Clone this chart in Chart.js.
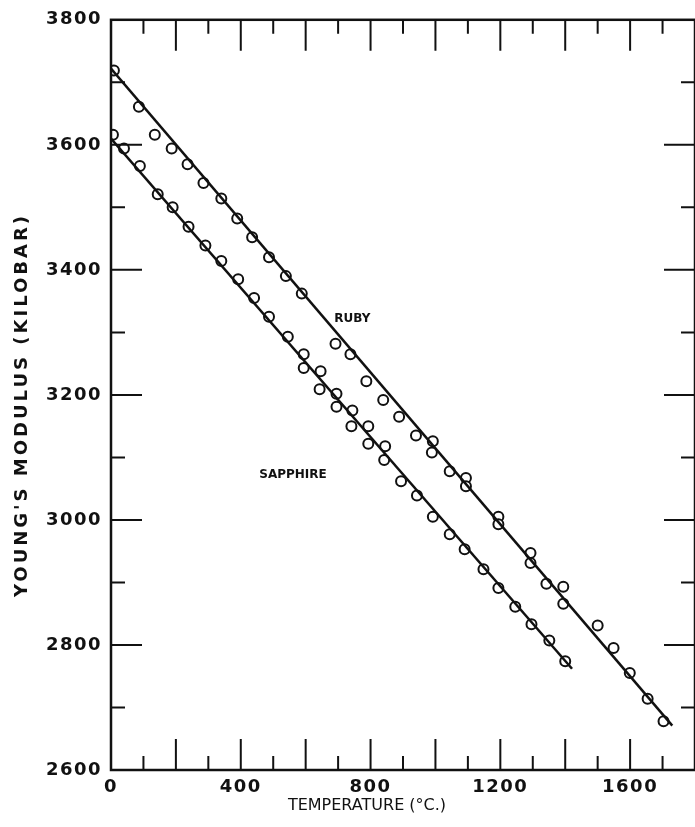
<!DOCTYPE html>
<html>
<head>
<meta charset="utf-8">
<script src="https://cdn.jsdelivr.net/npm/chart.js@4.4.0/dist/chart.umd.min.js"></script>
<style>
  html, body { margin: 0; padding: 0; background: #fff; overflow: hidden; }
</style>
</head>
<body>
<canvas id="chart" width="702" height="827"></canvas>
<script>
// Ruby: measured points
const rubyTemp = [9, 86, 135, 187, 236, 285, 340, 389, 435, 487, 539, 588, 692, 738, 787, 839, 888, 940, 992, 989, 1044, 1094, 1094, 1194, 1194, 1293, 1293, 1342, 1394, 1394, 1500, 1549, 1599, 1654, 1703];
const rubyModulus = [3719, 3661, 3616, 3594, 3569, 3539, 3514, 3482, 3452, 3420, 3390, 3362, 3282, 3265, 3222, 3192, 3165, 3135, 3126, 3108, 3078, 3067, 3054, 3005, 2993, 2947, 2931, 2898, 2893, 2866, 2831, 2795, 2755, 2714, 2678];

// Sapphire: measured points
const sapphireTemp = [6, 40, 89, 144, 190, 239, 291, 340, 392, 441, 487, 545, 594, 594, 646, 643, 695, 695, 744, 741, 793, 793, 845, 842, 894, 943, 992, 1044, 1090, 1148, 1194, 1246, 1296, 1351, 1400];
const sapphireModulus = [3616, 3594, 3566, 3521, 3500, 3469, 3439, 3414, 3385, 3355, 3325, 3293, 3265, 3243, 3238, 3209, 3202, 3181, 3175, 3150, 3150, 3122, 3118, 3096, 3062, 3039, 3005, 2977, 2953, 2921, 2891, 2861, 2833, 2807, 2774];

// Fitted straight lines (end points)
const rubyFitTemp = [0, 1730];
const rubyFitModulus = [3722, 2671];
const sapphireFitTemp = [0, 1421];
const sapphireFitModulus = [3610, 2762];

// Curve labels, in data units
const curveLabels = ['RUBY', 'SAPPHIRE'];
const curveLabelTemp = [744, 561];
const curveLabelModulus = [3322, 3072];

const xTitle = 'TEMPERATURE (°C.)';
const yTitle = "YOUNG'S MODULUS (KILOBAR)";

const toPoints = (xs, ys) => xs.map((v, i) => ({ x: v, y: ys[i] }));

// Frame with inward ticks, axis titles and curve labels
const framePlugin = {
    id: 'frame',
    beforeDraw(chart) {
        chart.ctx.letterSpacing = '1.5px';
    },
    afterDraw(chart) {
        const { ctx, chartArea: a, scales: { x, y } } = chart;
        ctx.save();
        ctx.letterSpacing = '0px';
        ctx.strokeStyle = '#111';
        ctx.lineWidth = 2.5;
        ctx.strokeRect(a.left, a.top, a.right - a.left, a.bottom - a.top);

        ctx.lineWidth = 2;
        ctx.beginPath();
        for (let t = 100; t < 1800; t += 100) {
            const px = x.getPixelForValue(t);
            const len = t % 200 === 0 ? 31 : 14;
            ctx.moveTo(px, a.bottom);
            ctx.lineTo(px, a.bottom - len);
            ctx.moveTo(px, a.top);
            ctx.lineTo(px, a.top + len);
        }
        for (let v = 2700; v < 3800; v += 100) {
            const py = y.getPixelForValue(v);
            const len = v % 200 === 0 ? 31 : 14;
            ctx.moveTo(a.left, py);
            ctx.lineTo(a.left + len, py);
            ctx.moveTo(a.right, py);
            ctx.lineTo(a.right - len, py);
        }
        ctx.stroke();

        ctx.fillStyle = '#111';
        ctx.textAlign = 'center';
        ctx.textBaseline = 'middle';

        ctx.font = 'bold 12px "DejaVu Sans"';
        curveLabels.forEach((txt, i) => {
            ctx.fillText(txt, x.getPixelForValue(curveLabelTemp[i]), y.getPixelForValue(curveLabelModulus[i]));
        });

        ctx.font = '16px "DejaVu Sans"';
        ctx.fillText(xTitle, 367, 806);

        ctx.save();
        ctx.translate(22, 405);
        ctx.rotate(-Math.PI / 2);
        ctx.font = 'bold 18px "DejaVu Sans"';
        ctx.letterSpacing = '3px';
        ctx.fillText(yTitle, 0, 0);
        ctx.restore();

        ctx.restore();
    }
};

const pointStyle = {
    showLine: false,
    pointRadius: 5,
    pointBorderWidth: 2,
    pointBorderColor: '#111',
    pointBackgroundColor: '#fff'
};

const lineStyle = {
    showLine: true,
    borderColor: '#111',
    borderWidth: 2.5,
    pointRadius: 0
};

new Chart(document.getElementById('chart'), {
    type: 'scatter',
    data: {
        datasets: [
            { label: 'Ruby fit', data: toPoints(rubyFitTemp, rubyFitModulus), ...lineStyle },
            { label: 'Sapphire fit', data: toPoints(sapphireFitTemp, sapphireFitModulus), ...lineStyle },
            { label: 'Ruby', data: toPoints(rubyTemp, rubyModulus), ...pointStyle },
            { label: 'Sapphire', data: toPoints(sapphireTemp, sapphireModulus), ...pointStyle }
        ]
    },
    options: {
        responsive: false,
        animation: false,
        layout: { padding: { top: 12, right: 3, left: 0, bottom: 0 } },
        plugins: {
            legend: { display: false },
            tooltip: { enabled: false }
        },
        scales: {
            x: {
                type: 'linear',
                min: 0,
                max: 1800,
                afterFit: (s) => { s.height = 57; },
                grid: { display: false, drawTicks: false },
                border: { display: false },
                ticks: {
                    stepSize: 400,
                    includeBounds: false,
                    padding: 7,
                    maxRotation: 0,
                    color: '#111',
                    font: { family: 'DejaVu Sans', size: 18, weight: 'bold' },
                    callback: (v) => String(v)
                }
            },
            y: {
                type: 'linear',
                min: 2600,
                max: 3800,
                afterFit: (s) => { s.width = 111; },
                grid: { display: false, drawTicks: false },
                border: { display: false },
                ticks: {
                    stepSize: 200,
                    padding: 9,
                    color: '#111',
                    font: { family: 'DejaVu Sans', size: 18, weight: 'bold' },
                    callback: (v) => String(v)
                }
            }
        }
    },
    plugins: [framePlugin]
});
</script>
</body>
</html>
